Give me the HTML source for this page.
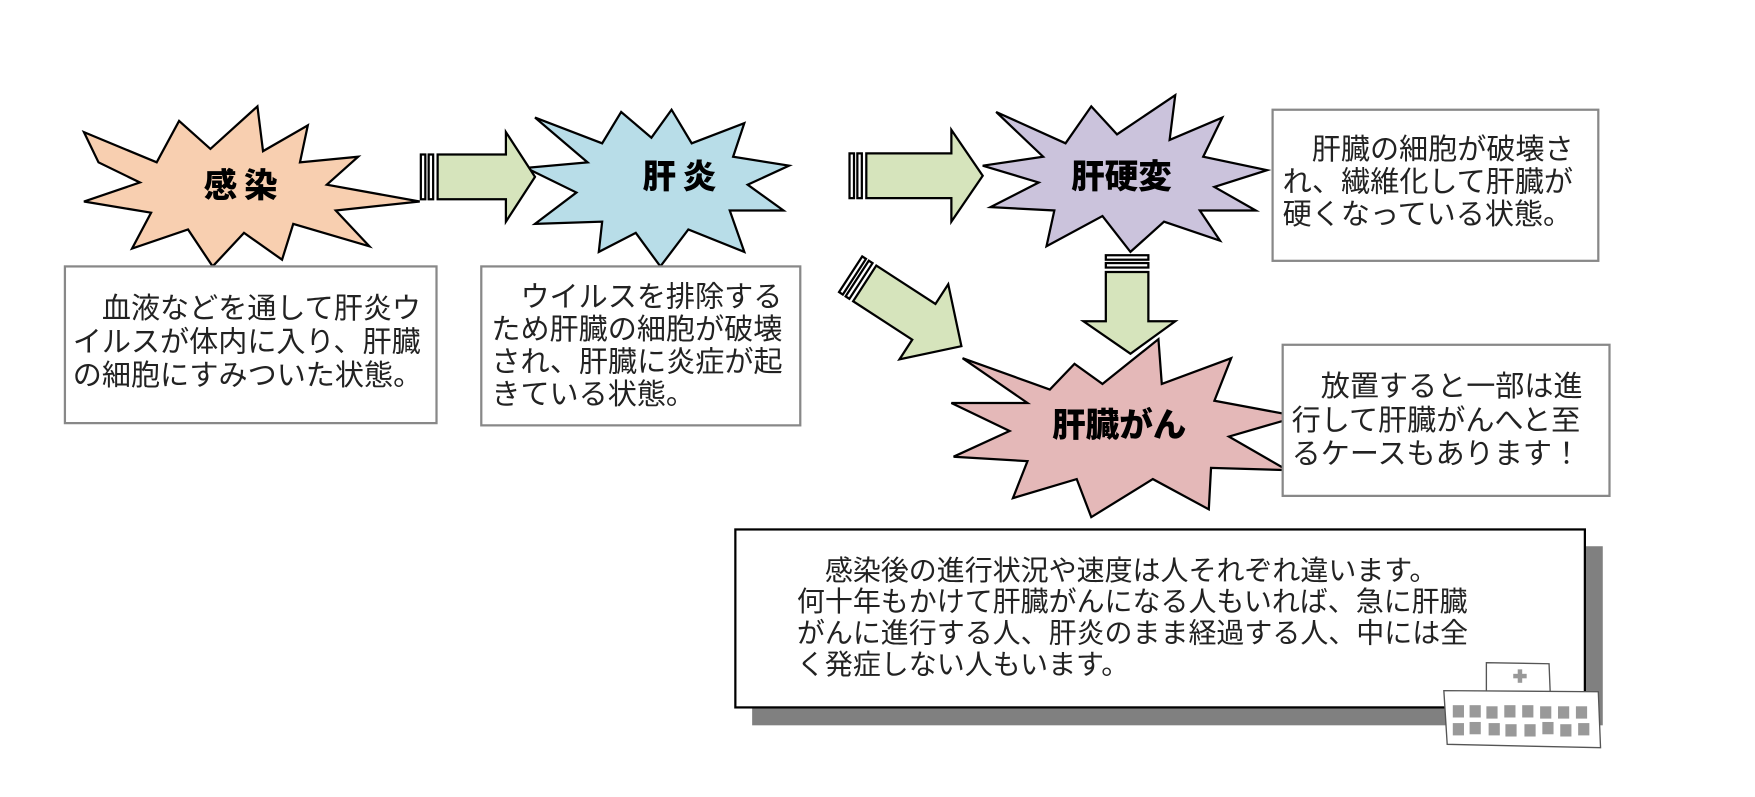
<!DOCTYPE html>
<html><head><meta charset="utf-8"><style>
html,body{margin:0;padding:0;background:#fff;}
svg{display:block;}
text{font-family:"Liberation Sans","Noto Sans CJK JP",sans-serif;}
.b{font-size:26px;fill:#222;}
.t{font-size:30px;font-weight:900;fill:#000;}
</style></head><body>
<svg width="1755" height="797" viewBox="0 0 1568 712" xmlns="http://www.w3.org/2000/svg">
<rect width="1568" height="712" fill="#fff"/>
<!-- bursts -->
<polygon fill="#f8cfb0" stroke="#000" stroke-width="2" points="75,118 140,145 160,108 188,133 230,95 235,135 275,112 268,145 320,140 292,165 375,180 300,188 330,220 262,200 252,232 218,208 190,238 168,205 118,222 135,190 75,180 125,163 88,145"/>
<text class="t" x="218" y="176" text-anchor="middle" letter-spacing="6">感染</text>
<polygon fill="#b8dde8" stroke="#000" stroke-width="2" points="478,105 538,128 555,100 582,123 600,98 618,128 665,110 655,140 705,148 668,165 700,188 652,188 665,225 615,205 590,238 568,208 535,225 538,198 478,200 515,172 470,150 525,145"/>
<text class="t" x="610" y="168" text-anchor="middle" letter-spacing="6">肝炎</text>
<polygon fill="#cbc3dc" stroke="#000" stroke-width="2" points="890,100 952,128 975,95 998,120 1050,85 1045,125 1092,105 1075,140 1132,152 1085,167 1122,188 1072,188 1090,215 1040,198 1010,225 985,193 935,220 942,188 885,185 928,163 878,148 932,140"/>
<text class="t" x="1002" y="168" text-anchor="middle">肝硬変</text>
<polygon fill="#e4b8b8" stroke="#000" stroke-width="2" points="860,320 938,348 960,325 985,343 1035,303 1038,343 1100,320 1085,358 1160,372 1098,390 1150,420 1082,418 1080,455 1030,428 975,462 962,428 905,445 918,412 852,408 902,385 850,360 918,360"/>
<text class="t" x="1000" y="390" text-anchor="middle">肝臓がん</text>
<!-- arrows -->
<g stroke="#000" stroke-width="2" fill="#d6e4bc">
<rect x="376" y="138" width="4" height="40" fill="#fff"/>
<rect x="383" y="138" width="4" height="40" fill="#fff"/>
<polygon points="391,138 452,138 452,118 478,158 452,198 452,178 391,178"/>
<rect x="759" y="137" width="4" height="40" fill="#fff"/>
<rect x="766" y="137" width="4" height="40" fill="#fff"/>
<polygon points="774,137 850,137 850,116 878,157 850,198 850,177 774,177"/>
<g transform="translate(760,245) rotate(33)">
<rect x="0" y="-19" width="4" height="38" fill="#fff"/>
<rect x="7" y="-19" width="4" height="38" fill="#fff"/>
<polygon points="15,-19 78,-19 78,-40 118,0 78,40 78,19 15,19"/>
</g>
<rect x="988" y="228" width="38" height="4" fill="#fff"/>
<rect x="988" y="235" width="38" height="4" fill="#fff"/>
<polygon points="988,243 1026,243 1026,287 1050,287 1010,316 968,287 988,287"/>
</g>
<!-- boxes -->
<g fill="#fff" stroke="#888" stroke-width="2">
<rect x="58" y="238" width="332" height="140"/>
<rect x="430" y="238" width="285" height="142"/>
<rect x="1137" y="98" width="291" height="135"/>
<rect x="1146" y="308" width="292" height="135"/>
</g>
<text class="b"><tspan x="91" y="284">血液などを通して肝炎ウ</tspan><tspan x="65" y="314">イルスが体内に入り、肝臓</tspan><tspan x="65" y="344">の細胞にすみついた状態。</tspan></text>
<text class="b"><tspan x="465" y="274">ウイルスを排除する</tspan><tspan x="439" y="303">ため肝臓の細胞が破壊</tspan><tspan x="439" y="332">され、肝臓に炎症が起</tspan><tspan x="439" y="361">きている状態。</tspan></text>
<text class="b"><tspan x="1172" y="142">肝臓の細胞が破壊さ</tspan><tspan x="1146" y="171">れ、繊維化して肝臓が</tspan><tspan x="1146" y="200">硬くなっている状態。</tspan></text>
<text class="b"><tspan x="1180" y="354">放置すると一部は進</tspan><tspan x="1154" y="384">行して肝臓がんへと至</tspan><tspan x="1154" y="414">るケースもあります！</tspan></text>
<!-- big box -->
<rect x="672" y="488" width="760" height="160" fill="#808080"/>
<rect x="657" y="473" width="759" height="159" fill="#fff" stroke="#000" stroke-width="2"/>
<text class="b" style="font-size:25px"><tspan x="737" y="518">感染後の進行状況や速度は人それぞれ違います。</tspan><tspan x="712" y="546">何十年もかけて肝臓がんになる人もいれば、急に肝臓</tspan><tspan x="712" y="574">がんに進行する人、肝炎のまま経過する人、中には全</tspan><tspan x="712" y="602">く発症しない人もいます。</tspan></text>
<!-- hospital -->
<g stroke="#555" stroke-width="1.2" fill="#fff">
<polygon points="1328,592 1384,593 1385,618 1328,618"/>
<polygon points="1290,617 1428,618 1430,668 1293,665"/>
</g>
<g fill="#999">
<rect x="1352" y="602" width="12" height="4"/><rect x="1356" y="598" width="4" height="12"/>
<rect x="1298" y="630" width="10" height="11"/><rect x="1313" y="630" width="10" height="11"/><rect x="1328" y="631" width="10" height="11"/><rect x="1344" y="630" width="10" height="11"/><rect x="1360" y="630" width="10" height="11"/><rect x="1376" y="631" width="10" height="11"/><rect x="1392" y="631" width="10" height="11"/><rect x="1408" y="631" width="10" height="11"/>
<rect x="1298" y="646" width="10" height="11"/><rect x="1313" y="645" width="10" height="11"/><rect x="1330" y="646" width="10" height="11"/><rect x="1345" y="647" width="10" height="11"/><rect x="1362" y="647" width="10" height="11"/><rect x="1378" y="645" width="10" height="11"/><rect x="1394" y="647" width="10" height="11"/><rect x="1410" y="646" width="10" height="11"/>
</g>
</svg>
</body></html>
